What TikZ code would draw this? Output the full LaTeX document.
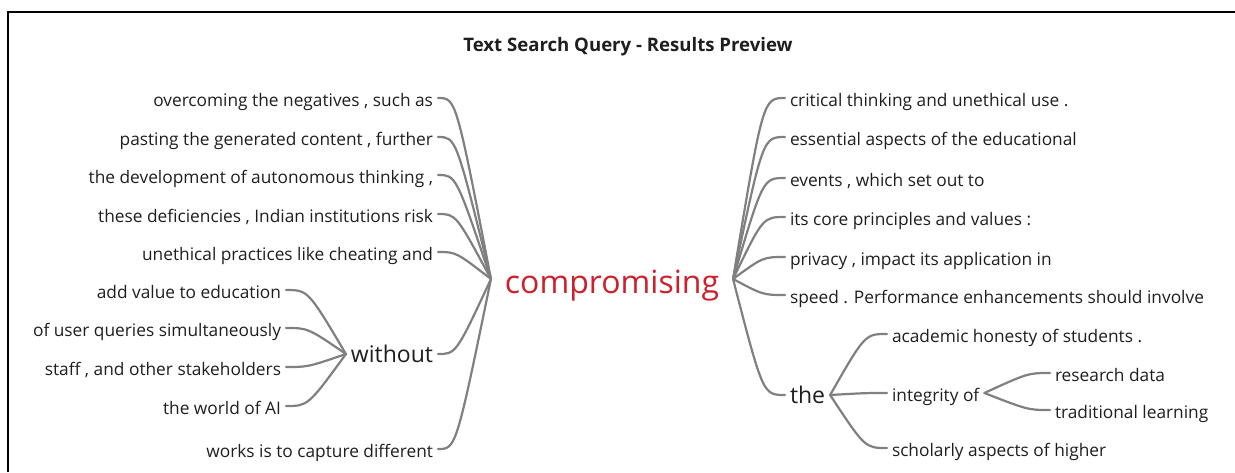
\documentclass[tikz,border=0pt]{standalone}
\usepackage{fontspec}
\setmainfont{Open Sans}
\usetikzlibrary{calc}
\definecolor{branchgrey}{RGB}{128,128,128}
\definecolor{keyred}{RGB}{205,32,44}
\definecolor{wordblack}{RGB}{30,30,30}

\begin{document}
\begin{tikzpicture}[
        x=1pt, y=-1pt,
        every node/.style = {inner sep=0pt, outer sep=5pt, text=wordblack,
          font=\fontsize{17.3}{20}\selectfont,
          text height=16pt, text depth=0pt},
        leafL/.style = {anchor=east},
        leafR/.style = {anchor=west},
        hubword/.style = {font=\fontsize{23}{27}\selectfont},
        branch/.style = {draw=branchgrey, line width=2.2pt, line cap=round}
        ]
    \useasboundingbox (0,0) rectangle (1235,472);
    % frame of the screenshot
    \draw[line width=2pt] (8,472) -- (8,12) -- (1235,12);

    \node[font=\bfseries\fontsize{18.6}{22}\selectfont, text height=15pt] (title) at (628,44) {Text Search Query - Results Preview};

    % centre word
    \node[font=\fontsize{32}{38}\selectfont, text=keyred, text height=28pt, outer sep=14pt] (key) at (612,279) {compromising};

    % left side
    \node[leafL] (l1) at (438,98) {overcoming the negatives , such as};
    \node[leafL] (l2) at (438,137) {pasting the generated content , further};
    \node[leafL] (l3) at (438,175) {the development of autonomous thinking ,};
    \node[leafL] (l4) at (438,214) {these deficiencies , Indian institutions risk};
    \node[leafL] (l5) at (438,252) {unethical practices like cheating and};
    \node[leafL, hubword] (wo) at (438,354) {without};
    \node[leafL] (l6) at (438,449) {works is to capture different};

    \node[leafL] (w1) at (286,290) {add value to education};
    \node[leafL] (w2) at (286,328) {of user queries simultaneously};
    \node[leafL] (w3) at (286,367) {staff , and other stakeholders};
    \node[leafL] (w4) at (286,406) {the world of AI};

    % right side
    \node[leafR] (r1) at (785,98) {critical thinking and unethical use .};
    \node[leafR] (r2) at (785,137) {essential aspects of the educational};
    \node[leafR] (r3) at (785,178) {events , which set out to};
    \node[leafR] (r4) at (785,217) {its core principles and values :};
    \node[leafR] (r5) at (785,257) {privacy , impact its application in};
    \node[leafR] (r6) at (785,295) {speed . Performance enhancements should involve};
    \node[leafR, hubword] (the) at (785,395) {the};

    \node[leafR] (t1) at (887,334) {academic honesty of students .};
    \node[leafR] (t2) at (887,393) {integrity of};
    \node[leafR] (t3) at (887,448) {scholarly aspects of higher};

    \node[leafR] (i1) at (1050,373) {research data};
    \node[leafR] (i2) at (1050,410) {traditional learning};

    % connectors
    \foreach \n in {l1,l2,l3,l4,l5,wo,l6}
        \draw[branch] (\n.east) .. controls ($(\n.east)+(18,0)$) .. (key.west);
    \foreach \n in {w1,w2,w3,w4}
        \draw[branch] (\n.east) .. controls ($(\n.east)+(22,0)$) .. (wo.west);
    \foreach \n in {r1,r2,r3,r4,r5,r6,the}
        \draw[branch] (\n.west) .. controls ($(\n.west)+(-22,0)$) .. (key.east);
    \foreach \n in {t1,t2,t3}
        \draw[branch] (\n.west) .. controls ($(\n.west)+(-22,0)$) .. (the.east);
    \foreach \n in {i1,i2}
        \draw[branch] (\n.west) .. controls ($(\n.west)+(-22,0)$) .. (t2.east);
\end{tikzpicture}
\end{document}
